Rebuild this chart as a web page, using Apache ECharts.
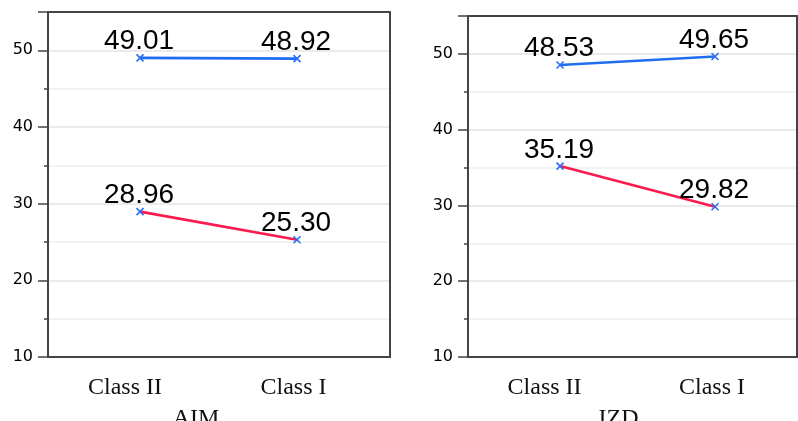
<!DOCTYPE html>
<html>
<head>
<meta charset="utf-8">
<script src="https://cdn.jsdelivr.net/npm/echarts@6/dist/echarts.min.js"></script>
<style>
html,body{margin:0;padding:0;background:#fff;}
#c{width:798px;height:421px;}
</style>
</head>
<body>
<div id="c"></div>
<script>
var categories = ['Class II', 'Class I'];
var panelNames = ['AIM', 'IZD'];
var aimBlue = [49.01, 48.92];
var aimRed = [28.96, 25.30];
var izdBlue = [48.53, 49.65];
var izdRed = [35.19, 29.82];
var yTicks = [10, 20, 30, 40, 50];

var BLUE = '#1f6ef2';
var RED = '#fa1a4e';
var MARK = '#2a6ff5';
var AXIS = '#444';
var GRIDC = '#e4e4e4';

var chart = echarts.init(document.getElementById('c'), null, {renderer: 'canvas'});

function toPairs(arr) { return arr.map(function (v, i) { return [i, v]; }); }

function xAxisDef(idx, min, max, namePad, labelPads, pos) {
  return {
    type: 'value', gridIndex: idx, min: min, max: max, position: pos,
    axisLine: {show: true, onZero: false, lineStyle: {color: AXIS, width: 2}},
    axisTick: {show: false}, splitLine: {show: false},
    axisLabel: pos === 'top' ? {show: false} : {
      customValues: [0, 1], margin: 19,
      formatter: function (v) { return '{c' + Math.round(v) + '|' + categories[Math.round(v)] + '}'; },
      rich: {
        c0: {fontFamily: 'Liberation Serif', fontSize: 24, color: '#111', padding: [0, labelPads[0], 0, 0]},
        c1: {fontFamily: 'Liberation Serif', fontSize: 24, color: '#111', padding: [0, labelPads[1], 0, 0]}
      }
    },
    name: pos === 'top' ? '' : panelNames[idx], nameLocation: 'middle', nameGap: 50,
    nameTextStyle: {fontFamily: 'Liberation Serif', fontSize: 24, color: '#111', padding: [0, namePad, 0, 0]}
  };
}

function yAxisDef(idx, pos) {
  var main = pos === 'left';
  return {
    type: 'value', gridIndex: idx, min: 10, max: 55, interval: 10, position: pos,
    axisLine: {show: true, onZero: false, lineStyle: {color: AXIS, width: 2}},
    axisTick: {show: main, length: 10, lineStyle: {color: AXIS, width: 1.5}},
    minorTick: {show: main, splitNumber: 2, length: 4, lineStyle: {color: AXIS, width: 1.5}},
    splitLine: {show: main, lineStyle: {color: GRIDC, width: 1.5}},
    minorSplitLine: {show: main, lineStyle: {color: '#eeeeee', width: 1.5}},
    axisLabel: main ? {
      margin: 15, fontFamily: 'DejaVu Sans', fontSize: 16, color: '#000',
      formatter: function (v) { return yTicks.indexOf(v) >= 0 ? String(v) : ''; }
    } : {show: false}
  };
}

function lineSeries(idx, data, color) {
  return {
    type: 'line', xAxisIndex: idx, yAxisIndex: idx, data: toPairs(data),
    lineStyle: {color: color, width: 2.6},
    symbol: 'path://M0 0L10 10M10 0L0 10', symbolSize: 7,
    itemStyle: {color: MARK, borderColor: MARK, borderWidth: 1.6},
    label: {
      show: true, position: 'top', distance: -2, offset: [-1, 0],
      fontFamily: 'Liberation Sans', fontSize: 28, color: '#000',
      formatter: function (p) { return p.value[1].toFixed(2); }
    },
    emphasis: {disabled: true},
    animation: false, z: 3
  };
}

chart.setOption({
  animation: false,
  backgroundColor: '#fff',
  grid: [
    {left: 48, top: 12, right: 408, bottom: 64, outerBoundsMode: 'none', containLabel: false},
    {left: 468, top: 16, right: 1, bottom: 64, outerBoundsMode: 'none', containLabel: false}
  ],
  xAxis: [
    xAxisDef(0, -0.586, 1.592, 46, [30, 7], 'bottom'),
    xAxisDef(1, -0.594, 1.529, 28, [31, 6], 'bottom'),
    xAxisDef(0, -0.586, 1.592, 0, [0, 0], 'top'),
    xAxisDef(1, -0.594, 1.529, 0, [0, 0], 'top')
  ],
  yAxis: [yAxisDef(0, 'left'), yAxisDef(1, 'left'), yAxisDef(0, 'right'), yAxisDef(1, 'right')],
  series: [
    lineSeries(0, aimBlue, BLUE),
    lineSeries(0, aimRed, RED),
    lineSeries(1, izdBlue, BLUE),
    lineSeries(1, izdRed, RED)
  ]
});
</script>
</body>
</html>
